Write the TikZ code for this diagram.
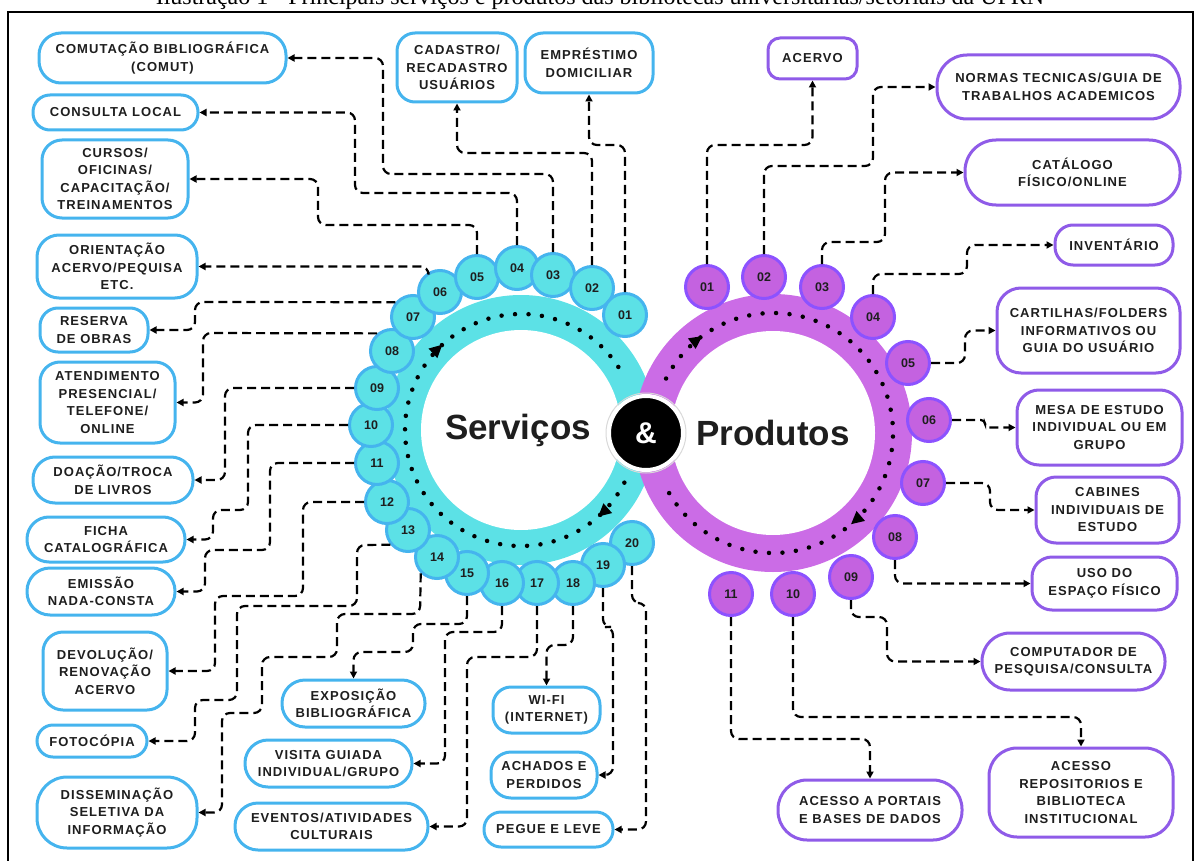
\documentclass[tikz,border=0pt]{standalone}
\usepackage{fontspec}
\setmainfont{Liberation Serif}
\newfontfamily\bxf{Liberation Sans}[LetterSpace=8]
\newfontfamily\nbf{Liberation Sans}
\usetikzlibrary{arrows.meta,decorations.markings}
\definecolor{cyanfill}{HTML}{5CE1E6}
\definecolor{sblue}{HTML}{45B4EE}
\definecolor{pring}{HTML}{CB6CE6}
\definecolor{pfill}{HTML}{C462E0}
\definecolor{pborder}{HTML}{8C52FF}
\definecolor{pbox}{HTML}{8F5BE8}
\definecolor{numtxt}{HTML}{1E1E1E}
\begin{document}
\begin{tikzpicture}[x=1pt,y=-1pt,
  sbx/.style={draw=sblue, line width=3pt, fill=white, align=center, text=numtxt,
    font=\bxf\bfseries\fontsize{13}{17.5}\selectfont, inner sep=0pt},
  pbx/.style={sbx, draw=pbox},
  sbub/.style={circle, draw=sblue, fill=cyanfill, line width=3pt, minimum size=43pt,
    inner sep=0pt, text=numtxt, font=\nbf\bfseries\fontsize{12.5}{14}\selectfont},
  pbub/.style={sbub, draw=pborder, fill=pfill},
  conn/.style={draw=black, line width=2.2pt, dash pattern=on 9pt off 5pt,
    rounded corners=8pt, -{Triangle[length=7pt,width=7pt]}},
  dotring/.style={line width=4.5pt, line cap=round, dash pattern=on 0pt off 13.5pt,
    postaction={decorate}},
]
\useasboundingbox (0,0) rectangle (1201,861);
% caption and frame
\node[font=\fontsize{24}{26}\selectfont, anchor=base, inner sep=0pt] (cap) at (600,5)
  {Ilustração 1 - Principais serviços e produtos das bibliotecas universitárias/setoriais da UFRN};
\draw[line width=1.8pt] (8,12) rectangle (1193,880);

% rings
\coordinate (sc) at (521,430);
\coordinate (pc) at (773,433);
\fill[cyanfill] (sc) circle (135);
\fill[white] (sc) circle (100);
\fill[pring] (pc) circle (139);
\fill[white] (pc) circle (102);

\draw[dotring, decoration={markings,
   mark=at position 0.07 with {\arrow{Triangle[length=13pt,width=12pt]}},
   mark=at position 0.655 with {\arrow{Triangle[length=13pt,width=12pt]}}}]
   (sc) ++(27:116) arc[start angle=27, end angle=333, radius=116];
\draw[dotring, decoration={markings,
   mark=at position 0.088 with {\arrow{Triangle[length=13pt,width=12pt]}},
   mark=at position 0.662 with {\arrow{Triangle[length=13pt,width=12pt]}}}]
   (pc) ++(207:120) arc[start angle=207, end angle=513, radius=120];

\node[font=\nbf\bfseries\fontsize{35}{40}\selectfont, text=numtxt] (serv) at (518,430) {Serviços};
\node[font=\nbf\bfseries\fontsize{35}{40}\selectfont, text=numtxt] (prod) at (773,433) {Produtos};
\node[circle, fill=black, draw=white, line width=4pt, minimum size=74pt, inner sep=0pt,
  text=white, font=\nbf\bfseries\fontsize{30}{30}\selectfont] (amp) at (646,433) {\&};
\draw[black!15, line width=1pt] (amp) circle (40);

% service bubbles
\foreach \n/\x/\y/\l in {20/632/543/20, 19/603/565/19, 18/573/583/18, 17/537/583/17,
  16/502/583/16, 15/467/573/15, 14/437/557/14, 13/408/530/13, 12/387/502/12,
  11/377/463/11, 10/371/425/10, 9/377/388/09, 8/392/351/08, 7/413/317/07,
  6/440/292/06, 5/477/277/05, 4/517/268/04, 3/553/275/03, 2/592/288/02, 1/625/315/01}
  \node[sbub] (s\n) at (\x,\y) {\l};

% product bubbles
\foreach \n/\x/\y/\l in {11/731/594/11, 10/793/594/10, 9/851/577/09, 8/895/537/08,
  7/923/483/07, 6/929/420/06, 5/908/363/05, 4/873/317/04, 3/822/287/03,
  2/764/277/02, 1/707/287/01}
  \node[pbub] (b\n) at (\x,\y) {\l};

% service boxes
\node[sbx, minimum width=128pt, minimum height=60pt, rounded corners=18pt] (o1) at (589,63) {EMPRÉSTIMO\\DOMICILIAR};
\node[sbx, minimum width=120pt, minimum height=69pt, rounded corners=18pt] (o2) at (457,67.5) {CADASTRO/\\RECADASTRO\\USUÁRIOS};
\node[sbx, minimum width=247pt, minimum height=50pt, rounded corners=22pt] (o3) at (162.5,58) {COMUTAÇÃO BIBLIOGRÁFICA\\(COMUT)};
\node[sbx, minimum width=165pt, minimum height=35pt, rounded corners=17pt] (o4) at (115.5,112.5) {CONSULTA LOCAL};
\node[sbx, minimum width=146pt, minimum height=78pt, rounded corners=20pt] (o5) at (115,179) {CURSOS/\\OFICINAS/\\CAPACITAÇÃO/\\TREINAMENTOS};
\node[sbx, minimum width=160pt, minimum height=63pt, rounded corners=22pt] (o6) at (117,266.5) {ORIENTAÇÃO\\ACERVO/PEQUISA\\ETC.};
\node[sbx, minimum width=108pt, minimum height=44pt, rounded corners=18pt] (o7) at (94,330) {RESERVA\\DE OBRAS};
\node[sbx, minimum width=135pt, minimum height=81pt, rounded corners=20pt] (o8) at (107.5,402.5) {ATENDIMENTO\\PRESENCIAL/\\TELEFONE/\\ONLINE};
\node[sbx, minimum width=160pt, minimum height=46pt, rounded corners=22pt] (o9) at (113,480) {DOAÇÃO/TROCA\\DE LIVROS};
\node[sbx, minimum width=158pt, minimum height=45pt, rounded corners=22pt] (o10) at (106,539.5) {FICHA\\CATALOGRÁFICA};
\node[sbx, minimum width=148pt, minimum height=47pt, rounded corners=23pt] (o11) at (101,591.5) {EMISSÃO\\NADA-CONSTA};
\node[sbx, minimum width=124pt, minimum height=78pt, rounded corners=20pt] (o12) at (105,671) {DEVOLUÇÃO/\\RENOVAÇÃO\\ACERVO};
\node[sbx, minimum width=110pt, minimum height=32pt, rounded corners=16pt] (o13) at (92,741) {FOTOCÓPIA};
\node[sbx, minimum width=160pt, minimum height=71pt, rounded corners=30pt] (o14) at (117,812.5) {DISSEMINAÇÃO\\SELETIVA DA\\INFORMAÇÃO};
\node[sbx, minimum width=143pt, minimum height=47pt, rounded corners=23pt] (o15) at (353.5,703.5) {EXPOSIÇÃO\\BIBLIOGRÁFICA};
\node[sbx, minimum width=167pt, minimum height=47pt, rounded corners=23pt] (o16) at (328.5,763.5) {VISITA GUIADA\\INDIVIDUAL/GRUPO};
\node[sbx, minimum width=193pt, minimum height=47pt, rounded corners=23pt] (o17) at (331.5,826.5) {EVENTOS/ATIVIDADES\\CULTURAIS};
\node[sbx, minimum width=107pt, minimum height=46pt, rounded corners=18pt] (o18) at (546.5,710) {WI-FI\\(INTERNET)};
\node[sbx, minimum width=106pt, minimum height=46pt, rounded corners=20pt] (o19) at (544,775) {ACHADOS E\\PERDIDOS};
\node[sbx, minimum width=129pt, minimum height=35pt, rounded corners=17pt] (o20) at (548.5,829.5) {PEGUE E LEVE};

% product boxes
\node[pbx, minimum width=89pt, minimum height=41pt, rounded corners=12pt] (q1) at (812.5,58.5) {ACERVO};
\node[pbx, minimum width=243pt, minimum height=64pt, rounded corners=30pt] (q2) at (1058.5,87) {NORMAS TECNICAS/GUIA DE\\TRABALHOS ACADEMICOS};
\node[pbx, minimum width=215pt, minimum height=65pt, rounded corners=31pt] (q3) at (1072.5,172.5) {CATÁLOGO\\FÍSICO/ONLINE};
\node[pbx, minimum width=118pt, minimum height=40pt, rounded corners=18pt] (q4) at (1114,245) {INVENTÁRIO};
\node[pbx, minimum width=183pt, minimum height=85pt, rounded corners=24pt] (q5) at (1088.5,330.5) {CARTILHAS/FOLDERS\\INFORMATIVOS OU\\GUIA DO USUÁRIO};
\node[pbx, minimum width=165pt, minimum height=75pt, rounded corners=22pt] (q6) at (1099.5,427.5) {MESA DE ESTUDO\\INDIVIDUAL OU EM\\GRUPO};
\node[pbx, minimum width=143pt, minimum height=66pt, rounded corners=20pt] (q7) at (1107.5,510) {CABINES\\INDIVIDUAIS DE\\ESTUDO};
\node[pbx, minimum width=145pt, minimum height=53pt, rounded corners=20pt] (q8) at (1104.5,583.5) {USO DO\\ESPAÇO FÍSICO};
\node[pbx, minimum width=183pt, minimum height=57pt, rounded corners=28pt] (q9) at (1073.5,661.5) {COMPUTADOR DE\\PESQUISA/CONSULTA};
\node[pbx, minimum width=184pt, minimum height=89pt, rounded corners=28pt] (q10) at (1081,792.5) {ACESSO\\REPOSITORIOS E\\BIBLIOTECA\\INSTITUCIONAL};
\node[pbx, minimum width=184pt, minimum height=60pt, rounded corners=29pt] (q11) at (870,810) {ACESSO A PORTAIS\\E BASES DE DADOS};

% service connectors
\draw[conn] (s1.north) -- (625,145) -- (589,145) -- (o1.south);
\draw[conn] (s2.north) -- (592,153) -- (457,153) -- (o2.south);
\draw[conn] (s3.north) -- (553,174) -- (383,174) -- (383,58) -- (o3.east);
\draw[conn] (s4.north) -- (517,193) -- (355,193) -- (355,112.5) -- (o4.east);
\draw[conn] (s5.north) -- (477,225) -- (318,225) -- (318,179) -- (o5.east);
\draw[conn] (s6.120) |- (o6.east);
\draw[conn] (s7.140) -- (195,302) -- (195,330) -- (o7.east);
\draw[conn] (s8.130) -- (203,333) -- (203,402.5) -- (o8.east);
\draw[conn] (s9.west) -- (225,388) -- (225,480) -- (o9.east);
\draw[conn] (s10.west) -- (248,425) -- (248,510) -- (213,510) -- (213,539.5) -- (o10.east);
\draw[conn] (s11.west) -- (270,463) -- (270,550) -- (205,550) -- (205,591.5) -- (o11.east);
\draw[conn] (s12.west) -- (303,502) -- (303,596) -- (215,596) -- (215,671) -- (o12.east);
\draw[conn] (s13.220) -- (357,545) -- (357,606) -- (237,606) -- (237,700) -- (195,700) -- (195,741) -- (o13.east);
\draw[conn] (s14.225) -- (420,614) -- (337,614) -- (337,657) -- (262,657) -- (262,713) -- (222,713) -- (222,812.5) -- (o14.east);
\draw[conn] (s15.south) -- (467,624) -- (413,624) -- (413,652) -- (353.5,652) -- (o15.north);
\draw[conn] (s16.south) -- (502,632) -- (445,632) -- (445,763.5) -- (o16.east);
\draw[conn] (s17.south) -- (537,657) -- (467,657) -- (467,826.5) -- (o17.east);
\draw[conn] (s18.south) -- (573,645) -- (546.5,645) -- (o18.north);
\draw[conn] (s19.south) -- (603,627) -- (613,627) -- (613,775) -- (o19.east);
\draw[conn] (s20.south) -- (632,603) -- (646,603) -- (646,829.5) -- (o20.east);

% product connectors
\draw[conn] (b1.north) -- (707,145) -- (812.5,145) -- (q1.south);
\draw[conn] (b2.north) -- (764,166) -- (873,166) -- (873,87) -- (q2.west);
\draw[conn] (b3.north) -- (822,242) -- (885,242) -- (885,172.5) -- (q3.west);
\draw[conn] (b4.north) -- (873,274) -- (967,274) -- (967,245) -- (q4.west);
\draw[conn] (b5.east) -- (965,363) -- (965,330.5) -- (q5.west);
\draw[conn, rounded corners=4pt] (b6.east) -- (985,420) -- (985,427.5) -- (q6.west);
\draw[conn] (b7.east) -- (990,483) -- (990,510) -- (q7.west);
\draw[conn] (b8.south) |- (q8.west);
\draw[conn] (b9.south) -- (851,617) -- (887,617) -- (887,661.5) -- (q9.west);
\draw[conn] (b10.south) -- (793,717) -- (1081,717) -- (q10.north);
\draw[conn] (b11.south) -- (731,739) -- (870,739) -- (q11.north);
\end{tikzpicture}
\end{document}
